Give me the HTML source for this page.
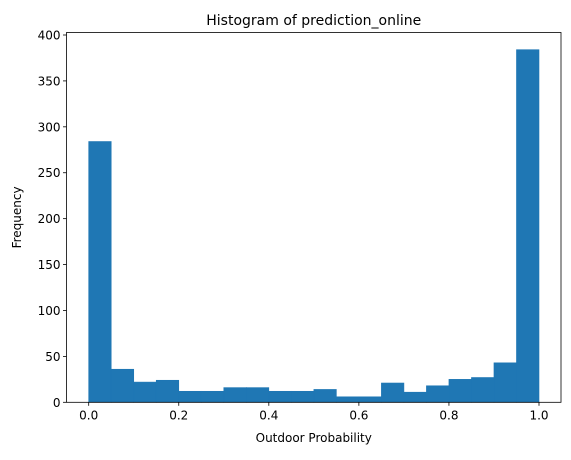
<!DOCTYPE html>
<html><head><meta charset="utf-8"><style>body{margin:0;background:#fff}svg{font-family:"DejaVu Sans","Liberation Sans",sans-serif}</style></head>
<body>
<svg id="chart" width="571" height="455"></svg>
<script>
const binEdgesStart = [0,0.05,0.1,0.15,0.2,0.25,0.3,0.35,0.4,0.45,0.5,0.55,0.6,0.65,0.7,0.75,0.8,0.85,0.9,0.95];
const counts = [284,36,22,24,12,12,16,16,12,12,14,6,6,21,11,18,25,27,43,384];
const xTicks = [0,0.2,0.4,0.6,0.8,1.0];
const xTickLabels = ["0.0","0.2","0.4","0.6","0.8","1.0"];
const yTicks = [0,50,100,150,200,250,300,350,400];
const binWidth = 0.05;
const NS="http://www.w3.org/2000/svg";
const svg=document.getElementById('chart');
const L=66.5,R=561,T=32.5,B=402.3;
const X=v=>88.7+v*(539-88.7);
const Y=v=>B-v*(B-35)/400;
function mk(t,a,txt){const e=document.createElementNS(NS,t);for(const k in a)e.setAttribute(k,a[k]);if(txt!==undefined)e.textContent=txt;svg.appendChild(e);return e;}
counts.forEach((c,i)=>{
  const x0=X(binEdgesStart[i]),x1=X(binEdgesStart[i]+binWidth);
  const r=mk('rect',{x:x0,y:Y(c),width:x1-x0,height:B-Y(c),fill:'#1f77b4',stroke:'#1f77b4','stroke-width':0.6});
  
  
});
const fr=mk('rect',{x:L,y:T,width:R-L,height:B-T,fill:'none',stroke:'#000','stroke-width':0.8});


xTicks.forEach((v,i)=>{
  mk('line',{x1:X(v),x2:X(v),y1:B,y2:B+3.5,stroke:'#000','stroke-width':0.8});
  const t=mk('text',{x:X(v),y:B+17,'font-size':12,'text-anchor':'middle'},xTickLabels[i]);
  
  
});
yTicks.forEach(v=>{
  mk('line',{x1:L,x2:L-3.5,y1:Y(v),y2:Y(v),stroke:'#000','stroke-width':0.8});
  const t=mk('text',{x:L-6,y:Y(v)+4.5,'font-size':12,'text-anchor':'end'},String(v));
  
  
});
const tt=mk('text',{x:(L+R)/2,y:25,'font-size':14,'text-anchor':'middle'},'Histogram of prediction_online');


const xl=mk('text',{x:(L+R)/2,y:442,'font-size':12,'text-anchor':'middle'},'Outdoor Probability');


const yl=mk('text',{x:21,y:(T+B)/2,'font-size':12,'text-anchor':'middle',transform:`rotate(-90 21 ${(T+B)/2})`},'Frequency');


</script>
</body></html>
